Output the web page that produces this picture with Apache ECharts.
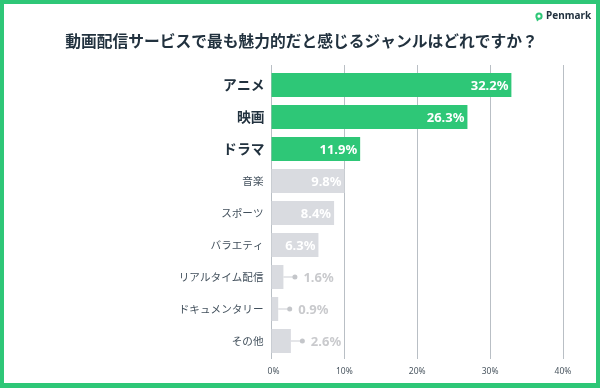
<!DOCTYPE html>
<html>
<head>
<meta charset="utf-8">
<style>
  html, body { margin: 0; padding: 0; background: #fff; }
  #chart { width: 600px; height: 388px; }
</style>
<script src="https://cdn.jsdelivr.net/npm/echarts@6/dist/echarts.min.js"></script>
</head>
<body>
<div id="chart"></div>
<script>
const titleText = '動画配信サービスで最も魅力的だと感じるジャンルはどれですか？'
const brandText = 'Penmark'
const categories = ['アニメ', '映画', 'ドラマ', '音楽', 'スポーツ', 'バラエティ', 'リアルタイム配信', 'ドキュメンタリー', 'その他']
const values = [32.2, 26.3, 11.9, 9.8, 8.4, 6.3, 1.6, 0.9, 2.6]
const highlighted = ['アニメ', '映画', 'ドラマ']
const leaderLabelled = ['リアルタイム配信', 'ドキュメンタリー', 'その他']
const tickValues = [0, 10, 20, 30, 40]

const cjk = '"Noto Sans CJK JP", "Noto Sans", sans-serif'
const latin = '"Noto Sans", "Noto Sans CJK JP", sans-serif'
const green = '#2EC777'
const grey = '#D9DBE0'
const dark = '#22323F'

const chart = echarts.init(document.getElementById('chart'), null, { renderer: 'canvas' })

const barData = values.map((v, i) => {
  const isTop = highlighted.includes(categories[i])
  const isOutside = leaderLabelled.includes(categories[i])
  return {
    value: v,
    itemStyle: { color: isTop ? green : grey },
    label: {
      position: isOutside ? 'right' : 'insideRight',
      distance: isOutside ? 20 : 3,
      offset: [0, 1],
      color: isOutside ? '#C9CACD' : '#fff'
    }
  }
})

// 細い引き出し線と丸（小さい値のバーだけ）
const leaderData = values
  .map((v, i) => [v, i])
  .filter(d => leaderLabelled.includes(categories[d[1]]))

chart.setOption({
  animation: false,
  backgroundColor: '#fff',
  title: {
    text: titleText,
    left: 296.5,
    top: 28,
    textAlign: 'center',
    textStyle: { fontFamily: cjk, fontSize: 15.75, fontWeight: 'bold', color: dark }
  },
  graphic: [
    {
      type: 'rect',
      silent: true,
      shape: { x: 2, y: 2, width: 596, height: 383 },
      style: { fill: 'none', stroke: green, lineWidth: 4 }
    },
    {
      type: 'rect',
      silent: true,
      shape: { x: 0, y: 383, width: 600, height: 5 },
      style: { fill: green }
    },
    {
      type: 'circle',
      shape: { cx: 539, cy: 16.2, r: 2.6 },
      style: { fill: 'none', stroke: green, lineWidth: 2 }
    },
    {
      type: 'polygon',
      shape: { points: [[536.2, 18.5], [539.5, 19.5], [537, 21.5]] },
      style: { fill: green }
    },
    {
      type: 'text',
      x: 546,
      y: 11.5,
      style: { text: brandText, fontFamily: latin, fontSize: 10, fontWeight: 'bold', fill: dark }
    }
  ],
  // バーの目盛りは罫線よりわずかに広い
  grid: [
    { left: 271.5, width: 298, top: 69, height: 288 },
    { left: 271.5, width: 291.5, top: 65, height: 294 }
  ],
  xAxis: [
    { gridIndex: 0, type: 'value', min: 0, max: 40, show: false },
    {
      gridIndex: 1,
      type: 'value',
      min: 0,
      max: 40,
      interval: 10,
      axisLine: { show: false },
      axisTick: { show: false },
      splitLine: { show: true, lineStyle: { color: '#B9BFC5', width: 1 } },
      axisLabel: {
        color: '#4A5660',
        fontFamily: latin,
        fontSize: 8.5,
        margin: 8,
        showMinLabel: true,
        showMaxLabel: true,
        formatter: v => (tickValues.includes(v) ? (v === 0 ? '{zero|0%}' : v + '%') : ''),
        rich: {
          zero: { fontFamily: latin, fontSize: 8.5, color: '#4A5660', padding: [0, 0, 0, 4] }
        }
      }
    }
  ],
  yAxis: [
    {
      gridIndex: 0,
      type: 'category',
      inverse: true,
      data: categories,
      axisLine: { show: false },
      axisTick: { show: false },
      axisLabel: {
        margin: 7,
        formatter: v => (highlighted.includes(v) ? '{top|' + v + '}' : '{rest|' + v + '}'),
        rich: {
          top: { fontFamily: cjk, fontSize: 13.8, fontWeight: 'bold', color: dark },
          rest: { fontFamily: cjk, fontSize: 10.6, color: '#42505C', padding: [0, 1, 0, 0] }
        }
      }
    },
    { gridIndex: 1, type: 'category', show: false, data: [] }
  ],
  series: [
    {
      type: 'bar',
      xAxisIndex: 0,
      yAxisIndex: 0,
      barWidth: 24,
      data: barData,
      z: 3,
      label: {
        show: true,
        fontFamily: latin,
        fontSize: 13,
        fontWeight: 'bold',
        formatter: p => p.value.toFixed(1) + '%'
      }
    },
    {
      type: 'custom',
      xAxisIndex: 0,
      yAxisIndex: 0,
      silent: true,
      z: 4,
      data: leaderData,
      encode: { x: 0, y: 1 },
      renderItem: (params, api) => {
        const p = api.coord([api.value(0), api.value(1)])
        return {
          type: 'group',
          children: [
            {
              type: 'line',
              shape: { x1: p[0], y1: p[1], x2: p[0] + 11.5, y2: p[1] },
              style: { stroke: '#D4D6DA', lineWidth: 1.2 }
            },
            {
              type: 'circle',
              shape: { cx: p[0] + 11.5, cy: p[1], r: 2.5 },
              style: { fill: '#C4C6CA' }
            }
          ]
        }
      }
    }
  ]
})
</script>
</body>
</html>
